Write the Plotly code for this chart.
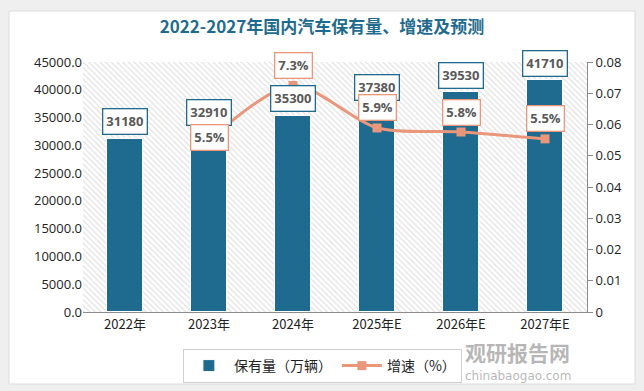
import plotly.graph_objects as go

categories = ["2022年", "2023年", "2024年", "2025年E", "2026年E", "2027年E"]
stock = [31180, 32910, 35300, 37380, 39530, 41710]
growth_labels = ["", "5.5%", "7.3%", "5.9%", "5.8%", "5.5%"]
growth = [None, 0.055, 0.0725, 0.0589, 0.0576, 0.0554]
left_ticks = [0, 5000, 10000, 15000, 20000, 25000, 30000, 35000, 40000, 45000]
right_ticks = [0, 0.01, 0.02, 0.03, 0.04, 0.05, 0.06, 0.07, 0.08]

BAR = "#1F6B8F"
LINE = "#E9967A"
TXT = "#595959"

xs = list(range(len(categories)))
n = len(categories)

fig = go.Figure()

# hatched plot-area background
fig.add_trace(go.Bar(
    x=[(n - 1) / 2], y=[max(left_ticks)], width=[n],
    marker=dict(color="white", line=dict(width=0),
                pattern=dict(shape="\\", fgcolor="#c4c4c4", bgcolor="white", size=4, solidity=0.3)),
    showlegend=False, hoverinfo="skip",
))

fig.add_trace(go.Bar(
    x=xs, y=stock, width=0.43, name="保有量（万辆）",
    marker=dict(color=BAR, line=dict(color="white", width=1)),
))

fig.add_trace(go.Scatter(
    x=xs, y=growth, name="增速（%）", yaxis="y2", mode="lines+markers",
    line=dict(color=LINE, width=3, shape="spline", smoothing=0.8),
    marker=dict(symbol="square", size=9, color=LINE),
    connectgaps=False,
))

annotations = []
for i, v in enumerate(stock):
    annotations.append(dict(
        x=xs[i], y=v, xref="x", yref="y", text=f"<b>{v}</b>", showarrow=False,
        yshift=17, font=dict(size=13, color=TXT, family="Open Sans"),
        bgcolor="white", bordercolor=BAR, borderwidth=1.3, borderpad=3,
    ))
for i, g in enumerate(growth):
    if g is None:
        continue
    annotations.append(dict(
        x=xs[i], y=g, xref="x", yref="y2", text=f"<b>{growth_labels[i]}</b>", showarrow=False,
        yshift=(3 if i == 1 else 20), font=dict(size=13, color=TXT, family="Open Sans"),
        bgcolor="white", bordercolor=LINE, borderwidth=1.3, borderpad=3,
    ))

# watermark
annotations.append(dict(x=0.863, y=-0.16, xref="paper", yref="paper", xanchor="center", yanchor="middle",
                        text="<b>观研报告网</b>", showarrow=False,
                        font=dict(size=21, color="rgba(110,110,110,0.5)", family="Noto Sans CJK SC")))
annotations.append(dict(x=0.863, y=-0.256, xref="paper", yref="paper", xanchor="center", yanchor="middle",
                        text="chinabaogao.com", showarrow=False,
                        font=dict(size=12, color="rgba(110,110,110,0.5)", family="DejaVu Sans")))

fig.update_layout(
    width=644, height=391,
    margin=dict(l=83, r=57, t=62, b=79, autoexpand=False),
    paper_bgcolor="#efefef", plot_bgcolor="white",
    barmode="overlay", bargap=0,
    title=dict(text="<b>2022-2027年国内汽车保有量、增速及预测</b>", x=0.5, xanchor="center",
               y=0.93, yanchor="middle",
               font=dict(size=17, color="#1F6B8F", family="Noto Sans CJK SC")),
    xaxis=dict(tickmode="array", tickvals=xs, ticktext=categories, range=[-0.5, n - 0.5],
               showgrid=False, zeroline=False, showline=True, linecolor="#8c8c8c", linewidth=1,
               ticks="", tickfont=dict(size=13, color="#222", family="Noto Sans CJK SC")),
    yaxis=dict(range=[0, max(left_ticks)], tickmode="array", tickvals=left_ticks,
               ticktext=[f"{t:.1f}" for t in left_ticks], showgrid=False, zeroline=False,
               showline=False, ticks="", tickfont=dict(size=13, color="#222", family="Open Sans")),
    yaxis2=dict(range=[0, max(right_ticks)], overlaying="y", side="right", tickmode="array",
                tickvals=right_ticks, ticktext=[("0" if t == 0 else f"{t:.2f}") for t in right_ticks],
                showgrid=False, zeroline=False, showline=True, linecolor="#8c8c8c", linewidth=1,
                ticks="outside", ticklen=5, tickcolor="#8c8c8c",
                tickfont=dict(size=13, color="#222", family="Open Sans")),
    legend=dict(orientation="h", x=0.475, xanchor="center", y=-0.148, yanchor="top",
                bgcolor="white", bordercolor="#d0d0d0", borderwidth=1,
                font=dict(size=14, color="#222", family="Noto Sans CJK SC"),
                itemwidth=40, traceorder="normal"),
    annotations=annotations,
    shapes=[dict(type="rect", xref="paper", yref="paper", layer="below",
                 x0=-74 / 504, x1=1 + 48 / 504, y0=-72 / 250, y1=1 + 51 / 250,
                 fillcolor="white", line=dict(color="#dcdcdc", width=1))],
    showlegend=True,
)

fig.write_html("out.html", config={"displayModeBar": False},
               post_script="document.body.style.margin='0';document.body.style.overflow='hidden';")
